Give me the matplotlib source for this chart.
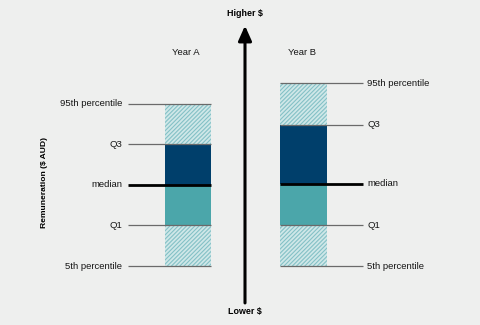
import matplotlib
matplotlib.use("Agg")
import matplotlib.pyplot as plt

plt.rcParams.update({
    "font.family": ["Liberation Sans", "DejaVu Sans"],
    "hatch.linewidth": 0.8,
})

# percentile values on a relative pay scale (5th percentile = 0)
stat_labels = ["5th percentile", "Q1", "median", "Q3", "95th percentile"]
years = ["Year A", "Year B"]
year_a = [0.0, 1.0, 2.0, 3.0, 4.0]
year_b = [0.0, 1.0, 2.02, 3.48, 4.5]

BG = "#EEEFEE"
NAVY = "#003F6B"
TEAL = "#4BA6AA"
HATCH_BG = "#CFE7E8"
HATCH_FG = "#84C1C6"
LINE = "#6A6A6A"

fig = plt.figure(figsize=(4.8, 3.25), dpi=100, facecolor=BG)
ax = fig.add_axes([0, 0, 1, 1], facecolor=BG)
ax.set_xlim(0, 480)
ax.set_ylim(-1.453, 6.552)
ax.axis("off")

# layout: bar centre, bar width, leader line extent, label side
layout = [
    dict(cx=188, w=46, x0=128, x1=211, lx=122, ha="right"),
    dict(cx=303.5, w=46.5, x0=280, x1=363, lx=367, ha="left"),
]

for name, vals, lay in zip(years, [year_a, year_b], layout):
    p5, q1, med, q3, p95 = vals
    # hatched tails
    for lo, hi in [(p5, q1), (q3, p95)]:
        ax.bar(lay["cx"], hi - lo, bottom=lo, width=lay["w"], color=HATCH_BG,
               edgecolor=HATCH_FG, hatch="////////", linewidth=0, zorder=1)
    ax.bar(lay["cx"], med - q1, bottom=q1, width=lay["w"], color=TEAL,
           linewidth=0, zorder=2)
    ax.bar(lay["cx"], q3 - med, bottom=med, width=lay["w"], color=NAVY,
           linewidth=0, zorder=2)

    for lab, v in zip(stat_labels, vals):
        is_med = lab == "median"
        ax.plot([lay["x0"], lay["x1"]], [v, v],
                color="black" if is_med else LINE,
                lw=2.0 if is_med else 0.9, solid_capstyle="butt", zorder=3)
        ax.text(lay["lx"], v, lab, ha=lay["ha"], va="center",
                fontsize=6.8, color="#151515")

    ax.text(lay["cx"] - 2, 0.837, name, transform=ax.get_xaxis_transform(),
            ha="center", va="center", fontsize=6.8, color="#151515")

# central direction arrow
ax.annotate("", xy=(245, 5.92), xytext=(245, -0.91),
            arrowprops=dict(arrowstyle="-|>,head_length=0.45,head_width=0.2",
                            mutation_scale=20, lw=2.2, color="black",
                            shrinkA=0, shrinkB=0))
ax.text(245, 0.96, "Higher $", transform=ax.get_xaxis_transform(),
        ha="center", va="center", fontsize=6.4, fontweight="bold")
ax.text(245, 0.041, "Lower $", transform=ax.get_xaxis_transform(),
        ha="center", va="center", fontsize=6.4, fontweight="bold")

fig.text(0.092, 0.437, "Remuneration ($ AUD)", rotation=90,
         ha="center", va="center", fontsize=6.1, fontweight="bold")

fig.savefig("out.png", dpi=100, facecolor=BG)
